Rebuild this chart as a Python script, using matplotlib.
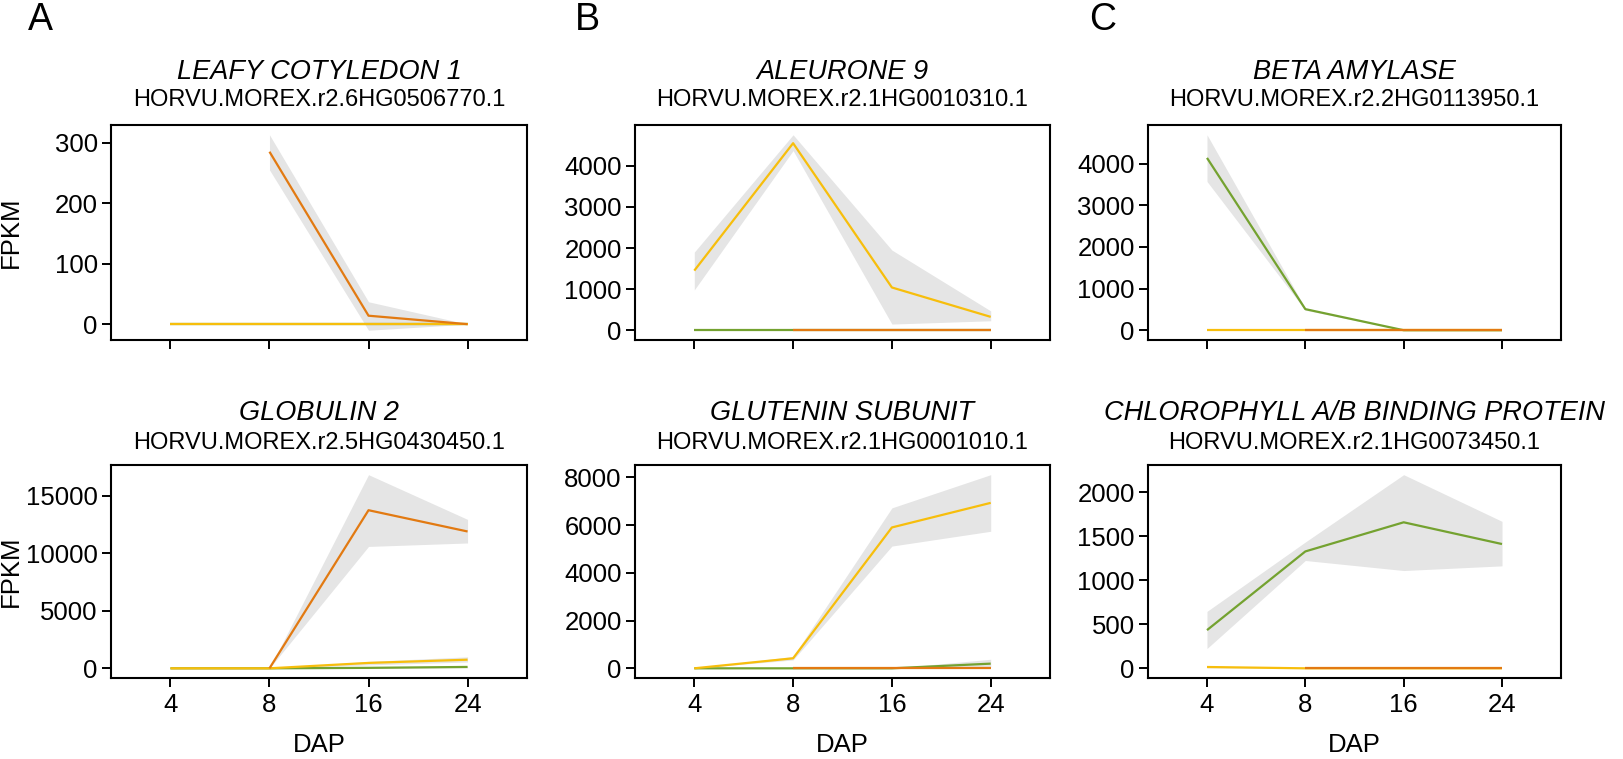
import numpy as np
import matplotlib
matplotlib.use('Agg')
import matplotlib.pyplot as plt

plt.rcParams['font.family'] = ['Liberation Sans', 'DejaVu Sans']

nan = np.nan

# DAP categories and tissue order (rows of each array below)
dap_labels = ['4', '8', '16', '24']
tissues = ['pericarp', 'endosperm', 'embryo']
tissue_colors = ['#74A230', '#F7BE0C', '#E27A12']

gene_names = ['LEAFY COTYLEDON 1', 'ALEURONE 9', 'BETA AMYLASE',
              'GLOBULIN 2', 'GLUTENIN SUBUNIT', 'CHLOROPHYLL A/B BINDING PROTEIN']
gene_ids = ['HORVU.MOREX.r2.6HG0506770.1', 'HORVU.MOREX.r2.1HG0010310.1',
            'HORVU.MOREX.r2.2HG0113950.1', 'HORVU.MOREX.r2.5HG0430450.1',
            'HORVU.MOREX.r2.1HG0001010.1', 'HORVU.MOREX.r2.1HG0073450.1']
yticks = [[0, 100, 200, 300], [0, 1000, 2000, 3000, 4000], [0, 1000, 2000, 3000, 4000],
          [0, 5000, 10000, 15000], [0, 2000, 4000, 6000, 8000], [0, 500, 1000, 1500, 2000]]

# mean FPKM and ribbon (lower / upper), rows = pericarp, endosperm, embryo
lec1_mean = [[0, 0, 0, 0], [0, 0, 0, 0], [nan, 285, 14, 0]]
lec1_lo = [[0, 0, 0, 0], [0, 0, 0, 0], [nan, 255, -10, 0]]
lec1_hi = [[0, 0, 0, 0], [0, 0, 0, 0], [nan, 313, 37, 0]]

ale9_mean = [[0, 0, 0, 0], [1450, 4550, 1040, 325], [nan, 0, 0, 0]]
ale9_lo = [[0, 0, 0, 0], [980, 4370, 150, 230], [nan, 0, 0, 0]]
ale9_hi = [[0, 0, 0, 0], [1900, 4755, 1950, 470], [nan, 0, 0, 0]]

bamy_mean = [[4135, 506, 0, 0], [0, 0, 0, 0], [nan, 0, 0, 0]]
bamy_lo = [[3570, 480, 0, 0], [0, 0, 0, 0], [nan, 0, 0, 0]]
bamy_hi = [[4690, 530, 0, 0], [0, 0, 0, 0], [nan, 0, 0, 0]]

glob2_mean = [[0, 0, 40, 120], [0, 0, 470, 750], [nan, 0, 13750, 11900]]
glob2_lo = [[0, 0, 0, 40], [0, 0, 300, 550], [nan, 0, 10600, 10900]]
glob2_hi = [[0, 0, 80, 200], [0, 0, 600, 1000], [nan, 0, 16840, 12950]]

glu_mean = [[0, 0, 0, 196], [0, 420, 5900, 6930], [nan, 0, 0, 0]]
glu_lo = [[0, 0, 0, 50], [0, 350, 5120, 5740], [nan, 0, 0, 0]]
glu_hi = [[0, 0, 0, 380], [0, 500, 6720, 8110], [nan, 0, 0, 0]]

cab_mean = [[434, 1328, 1659, 1412], [15, 0, 0, 0], [nan, 0, 0, 0]]
cab_lo = [[225, 1225, 1111, 1164], [5, 0, 0, 0], [nan, 0, 0, 0]]
cab_hi = [[647, 1435, 2200, 1670], [25, 0, 0, 0], [nan, 0, 0, 0]]

means = [lec1_mean, ale9_mean, bamy_mean, glob2_mean, glu_mean, cab_mean]
lows = [lec1_lo, ale9_lo, bamy_lo, glob2_lo, glu_lo, cab_lo]
highs = [lec1_hi, ale9_hi, bamy_hi, glob2_hi, glu_hi, cab_hi]

W, H = 1624, 759
fig = plt.figure(figsize=(W / 100, H / 100), dpi=100)

# panel boxes in pixels
col_x = [(111, 527), (635, 1050), (1148, 1561)]
row_y = [(125, 340), (465, 678)]
title_off = [(53, 25), (52, 22)]  # px above panel top: italic name, gene id

for i in range(6):
    r, c = divmod(i, 3)
    x0, x1 = col_x[c]
    y0, y1 = row_y[r]
    ax = fig.add_axes([x0 / W, 1 - y1 / H, (x1 - x0) / W, (y1 - y0) / H])
    x = np.arange(len(dap_labels))
    m = np.array(means[i], dtype=float)
    lo = np.array(lows[i], dtype=float)
    hi = np.array(highs[i], dtype=float)
    for t in range(len(tissues)):
        ok = ~np.isnan(m[t])
        ax.fill_between(x[ok], lo[t][ok], hi[t][ok], color='#E5E5E5', lw=0, zorder=1)
    for t in range(len(tissues)):
        ok = ~np.isnan(m[t])
        ax.plot(x[ok], m[t][ok], color=tissue_colors[t], lw=1.6, zorder=3,
                solid_capstyle='butt')

    # ggplot-like 5% expansion
    vmin = np.nanmin(np.concatenate([lo.ravel(), m.ravel()]))
    vmax = np.nanmax(np.concatenate([hi.ravel(), m.ravel()]))
    span = vmax - vmin
    ax.set_ylim(vmin - 0.05 * span, vmax + 0.05 * span)
    ax.set_xlim(-0.6, 3.6)
    ax.set_yticks(yticks[i])
    ax.set_xticks(x)
    if r == 1:
        ax.set_xticklabels(dap_labels)
        ax.set_xlabel('DAP', fontsize=18.5, labelpad=11)
    else:
        ax.set_xticklabels([])
    for s in ax.spines.values():
        s.set_linewidth(1.5)
    ax.tick_params(axis='both', length=6.5, width=1.4, labelsize=18.5, color='black')
    ax.tick_params(axis='y', pad=3)
    ax.tick_params(axis='x', pad=4.5)

    cx = (x0 + x1) / 2 / W
    fig.text(cx, 1 - (y0 - title_off[r][0]) / H, gene_names[i], ha='center',
             va='center', fontsize=19.5, style='italic')
    fig.text(cx, 1 - (y0 - title_off[r][1]) / H, gene_ids[i], ha='center',
             va='center', fontsize=17)

# shared y labels, aligned like the reference
for y0, y1 in row_y:
    fig.text(11 / W, 1 - (y0 + y1) / 2 / H, 'FPKM', rotation=90, ha='center',
             va='center', fontsize=18.5)

for lab, px in zip(['A', 'B', 'C'], [40, 587, 1103]):
    fig.text(px / W, 1 - 20 / H, lab, ha='center', va='center', fontsize=27)

fig.savefig('out.png', dpi=100)
